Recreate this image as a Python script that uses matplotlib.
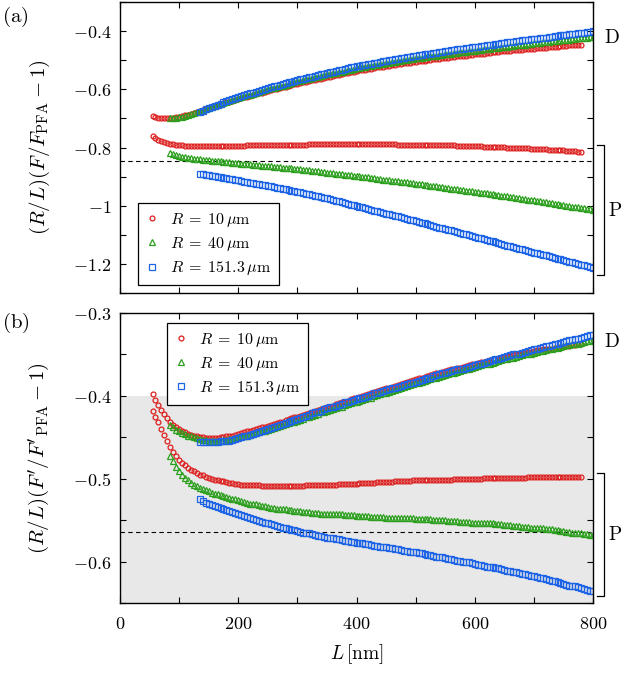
import numpy as np
import matplotlib
matplotlib.use("Agg")
import matplotlib.pyplot as plt
from matplotlib.ticker import MultipleLocator, FuncFormatter

plt.rcParams["mathtext.fontset"] = "cm"
plt.rcParams["font.family"] = ["DejaVu Serif"]

# L grid: first separation (nm) of each radius, sampled every 5 nm
L_STEP = 5
L0 = {"10": 55, "40": 85, "151.3": 135}
LABELS = {"10": r"$R\;=\;10\,\mu\mathrm{m}$",
          "40": r"$R\;=\;40\,\mu\mathrm{m}$",
          "151.3": r"$R\;=\;151.3\,\mu\mathrm{m}$"}

# ---- panel (a): (R/L)(F/F_PFA - 1) ----
a_D_10 = [
    -0.693, -0.696, -0.698, -0.699, -0.700, -0.700, -0.699, -0.698, -0.696, -0.694,
    -0.692, -0.689, -0.687, -0.684, -0.681, -0.678, -0.674, -0.671, -0.668, -0.664,
    -0.661, -0.658, -0.655, -0.651, -0.648, -0.645, -0.642, -0.640, -0.637, -0.634,
    -0.631, -0.628, -0.625, -0.622, -0.619, -0.617, -0.614, -0.611, -0.608, -0.605,
    -0.603, -0.600, -0.598, -0.595, -0.593, -0.591, -0.588, -0.586, -0.583, -0.581,
    -0.579, -0.576, -0.574, -0.572, -0.569, -0.567, -0.565, -0.563, -0.560, -0.558,
    -0.556, -0.554, -0.552, -0.550, -0.548, -0.545, -0.543, -0.541, -0.539, -0.537,
    -0.535, -0.534, -0.532, -0.530, -0.529, -0.527, -0.525, -0.523, -0.522, -0.520,
    -0.519, -0.517, -0.516, -0.514, -0.513, -0.511, -0.510, -0.508, -0.507, -0.505,
    -0.504, -0.502, -0.501, -0.500, -0.498, -0.497, -0.496, -0.495, -0.493, -0.492,
    -0.491, -0.490, -0.488, -0.487, -0.486, -0.485, -0.484, -0.482, -0.481, -0.480,
    -0.479, -0.478, -0.477, -0.476, -0.475, -0.473, -0.472, -0.471, -0.470, -0.469,
    -0.468, -0.467, -0.466, -0.466, -0.465, -0.464, -0.463, -0.462, -0.461, -0.460,
    -0.459, -0.458, -0.457, -0.457, -0.456, -0.455, -0.454, -0.453, -0.452, -0.451,
    -0.450, -0.449, -0.448, -0.448, -0.447, -0.446]
a_D_40 = [
    -0.700, -0.699, -0.698, -0.696, -0.694, -0.691, -0.688, -0.685, -0.682, -0.679,
    -0.676, -0.672, -0.669, -0.665, -0.662, -0.658, -0.655, -0.651, -0.648, -0.644,
    -0.641, -0.637, -0.634, -0.630, -0.627, -0.624, -0.621, -0.618, -0.615, -0.612,
    -0.609, -0.606, -0.603, -0.600, -0.597, -0.595, -0.592, -0.589, -0.587, -0.584,
    -0.581, -0.578, -0.576, -0.573, -0.571, -0.568, -0.566, -0.563, -0.561, -0.559,
    -0.556, -0.554, -0.551, -0.549, -0.547, -0.545, -0.543, -0.541, -0.539, -0.536,
    -0.534, -0.532, -0.530, -0.528, -0.526, -0.524, -0.523, -0.521, -0.519, -0.517,
    -0.515, -0.513, -0.512, -0.510, -0.508, -0.507, -0.505, -0.504, -0.502, -0.500,
    -0.499, -0.497, -0.496, -0.494, -0.493, -0.491, -0.490, -0.488, -0.487, -0.486,
    -0.484, -0.483, -0.481, -0.480, -0.479, -0.477, -0.476, -0.475, -0.473, -0.472,
    -0.471, -0.470, -0.468, -0.467, -0.466, -0.464, -0.463, -0.462, -0.460, -0.459,
    -0.458, -0.457, -0.455, -0.454, -0.453, -0.452, -0.450, -0.449, -0.448, -0.447,
    -0.446, -0.444, -0.443, -0.442, -0.441, -0.440, -0.439, -0.438, -0.437, -0.435,
    -0.434, -0.433, -0.432, -0.431, -0.430, -0.429, -0.428, -0.427, -0.425, -0.424,
    -0.423, -0.422, -0.421, -0.420]
a_D_151 = [
    -0.677, -0.673, -0.669, -0.665, -0.661, -0.657, -0.653, -0.649, -0.645, -0.641,
    -0.637, -0.633, -0.630, -0.626, -0.623, -0.620, -0.617, -0.614, -0.611, -0.608,
    -0.605, -0.602, -0.599, -0.596, -0.593, -0.590, -0.588, -0.585, -0.582, -0.579,
    -0.576, -0.574, -0.571, -0.568, -0.566, -0.563, -0.561, -0.558, -0.556, -0.553,
    -0.551, -0.548, -0.546, -0.543, -0.541, -0.539, -0.536, -0.534, -0.532, -0.530,
    -0.528, -0.525, -0.523, -0.521, -0.519, -0.517, -0.515, -0.513, -0.512, -0.510,
    -0.508, -0.506, -0.504, -0.502, -0.500, -0.499, -0.497, -0.495, -0.494, -0.492,
    -0.490, -0.488, -0.487, -0.485, -0.483, -0.482, -0.480, -0.479, -0.477, -0.475,
    -0.474, -0.472, -0.471, -0.469, -0.468, -0.466, -0.465, -0.463, -0.462, -0.460,
    -0.459, -0.457, -0.456, -0.454, -0.453, -0.451, -0.450, -0.448, -0.447, -0.446,
    -0.444, -0.443, -0.441, -0.440, -0.439, -0.437, -0.436, -0.435, -0.434, -0.432,
    -0.431, -0.430, -0.428, -0.427, -0.426, -0.424, -0.423, -0.422, -0.421, -0.419,
    -0.418, -0.417, -0.415, -0.414, -0.413, -0.411, -0.410, -0.409, -0.408, -0.406,
    -0.405, -0.404, -0.402, -0.401]
a_P_10 = [
    -0.761, -0.768, -0.774, -0.778, -0.782, -0.785, -0.787, -0.789, -0.791, -0.792,
    -0.793, -0.794, -0.795, -0.795, -0.796, -0.796, -0.796, -0.796, -0.796, -0.796,
    -0.796, -0.796, -0.796, -0.795, -0.795, -0.795, -0.795, -0.794, -0.794, -0.794,
    -0.794, -0.794, -0.793, -0.793, -0.793, -0.793, -0.793, -0.792, -0.792, -0.792,
    -0.792, -0.792, -0.791, -0.791, -0.791, -0.791, -0.790, -0.790, -0.790, -0.790,
    -0.790, -0.790, -0.790, -0.789, -0.789, -0.789, -0.789, -0.789, -0.789, -0.789,
    -0.789, -0.789, -0.789, -0.789, -0.789, -0.789, -0.789, -0.789, -0.789, -0.789,
    -0.789, -0.789, -0.789, -0.789, -0.789, -0.789, -0.789, -0.789, -0.789, -0.789,
    -0.789, -0.789, -0.789, -0.790, -0.790, -0.790, -0.790, -0.790, -0.790, -0.790,
    -0.790, -0.791, -0.791, -0.791, -0.791, -0.791, -0.792, -0.792, -0.792, -0.792,
    -0.793, -0.793, -0.793, -0.794, -0.794, -0.794, -0.794, -0.795, -0.795, -0.795,
    -0.796, -0.796, -0.797, -0.797, -0.797, -0.798, -0.798, -0.798, -0.799, -0.799,
    -0.800, -0.800, -0.801, -0.801, -0.802, -0.802, -0.803, -0.803, -0.804, -0.804,
    -0.805, -0.805, -0.806, -0.806, -0.807, -0.808, -0.808, -0.809, -0.809, -0.810,
    -0.811, -0.812, -0.813, -0.813, -0.814, -0.815]
a_P_40 = [
    -0.820, -0.823, -0.826, -0.828, -0.831, -0.833, -0.835, -0.837, -0.838, -0.840,
    -0.841, -0.842, -0.843, -0.844, -0.845, -0.846, -0.847, -0.848, -0.849, -0.850,
    -0.851, -0.852, -0.853, -0.854, -0.855, -0.856, -0.857, -0.858, -0.859, -0.860,
    -0.861, -0.862, -0.863, -0.864, -0.865, -0.866, -0.867, -0.868, -0.869, -0.870,
    -0.871, -0.872, -0.873, -0.874, -0.875, -0.876, -0.878, -0.879, -0.880, -0.881,
    -0.882, -0.884, -0.885, -0.886, -0.887, -0.888, -0.890, -0.891, -0.892, -0.893,
    -0.894, -0.896, -0.897, -0.898, -0.899, -0.901, -0.902, -0.903, -0.905, -0.906,
    -0.907, -0.909, -0.910, -0.911, -0.912, -0.914, -0.915, -0.916, -0.918, -0.919,
    -0.920, -0.922, -0.923, -0.924, -0.925, -0.927, -0.928, -0.930, -0.931, -0.932,
    -0.934, -0.935, -0.937, -0.938, -0.939, -0.941, -0.942, -0.944, -0.945, -0.946,
    -0.948, -0.949, -0.951, -0.952, -0.953, -0.955, -0.956, -0.958, -0.959, -0.961,
    -0.962, -0.964, -0.965, -0.967, -0.968, -0.970, -0.971, -0.973, -0.974, -0.976,
    -0.977, -0.979, -0.980, -0.982, -0.984, -0.985, -0.987, -0.988, -0.990, -0.992,
    -0.993, -0.995, -0.996, -0.998, -1.000, -1.001, -1.003, -1.004, -1.006, -1.008,
    -1.009, -1.011, -1.012, -1.014]
a_P_151 = [
    -0.890, -0.892, -0.894, -0.895, -0.897, -0.899, -0.901, -0.902, -0.904, -0.906,
    -0.908, -0.909, -0.911, -0.913, -0.915, -0.917, -0.919, -0.921, -0.923, -0.924,
    -0.926, -0.928, -0.930, -0.932, -0.934, -0.936, -0.938, -0.940, -0.942, -0.944,
    -0.946, -0.948, -0.950, -0.952, -0.954, -0.957, -0.959, -0.961, -0.963, -0.966,
    -0.968, -0.970, -0.973, -0.975, -0.978, -0.980, -0.983, -0.985, -0.988, -0.991,
    -0.993, -0.996, -0.998, -1.001, -1.004, -1.006, -1.009, -1.011, -1.014, -1.017,
    -1.019, -1.022, -1.024, -1.027, -1.030, -1.032, -1.035, -1.037, -1.040, -1.043,
    -1.045, -1.048, -1.050, -1.053, -1.056, -1.058, -1.061, -1.064, -1.067, -1.069,
    -1.072, -1.075, -1.077, -1.080, -1.083, -1.085, -1.088, -1.091, -1.094, -1.096,
    -1.099, -1.102, -1.104, -1.107, -1.110, -1.112, -1.115, -1.118, -1.121, -1.123,
    -1.126, -1.129, -1.131, -1.134, -1.137, -1.139, -1.142, -1.145, -1.148, -1.150,
    -1.153, -1.156, -1.158, -1.161, -1.164, -1.166, -1.169, -1.171, -1.174, -1.177,
    -1.179, -1.182, -1.184, -1.187, -1.190, -1.192, -1.195, -1.197, -1.200, -1.203,
    -1.205, -1.208, -1.210, -1.213]

# ---- panel (b): (R/L)(F'/F'_PFA - 1) ----
b_D_10 = [
    -0.398, -0.405, -0.411, -0.417, -0.422, -0.427, -0.431, -0.435, -0.438, -0.440,
    -0.442, -0.444, -0.446, -0.447, -0.448, -0.449, -0.450, -0.450, -0.451, -0.451,
    -0.451, -0.451, -0.451, -0.450, -0.450, -0.449, -0.448, -0.448, -0.447, -0.446,
    -0.445, -0.444, -0.443, -0.442, -0.441, -0.440, -0.439, -0.438, -0.437, -0.436,
    -0.435, -0.434, -0.433, -0.432, -0.431, -0.429, -0.428, -0.427, -0.426, -0.425,
    -0.424, -0.423, -0.422, -0.421, -0.420, -0.418, -0.417, -0.416, -0.415, -0.414,
    -0.413, -0.412, -0.410, -0.409, -0.408, -0.407, -0.406, -0.404, -0.403, -0.402,
    -0.401, -0.400, -0.399, -0.398, -0.397, -0.395, -0.394, -0.393, -0.392, -0.391,
    -0.390, -0.389, -0.388, -0.387, -0.386, -0.384, -0.383, -0.382, -0.381, -0.380,
    -0.379, -0.378, -0.377, -0.376, -0.375, -0.374, -0.373, -0.372, -0.371, -0.370,
    -0.369, -0.368, -0.367, -0.366, -0.366, -0.365, -0.364, -0.363, -0.362, -0.361,
    -0.360, -0.359, -0.359, -0.358, -0.357, -0.356, -0.355, -0.355, -0.354, -0.353,
    -0.352, -0.352, -0.351, -0.350, -0.350, -0.349, -0.348, -0.347, -0.347, -0.346,
    -0.345, -0.345, -0.344, -0.344, -0.343, -0.343, -0.342, -0.342, -0.341, -0.341,
    -0.340, -0.340, -0.339, -0.339, -0.338, -0.338]
b_D_40 = [
    -0.435, -0.438, -0.441, -0.443, -0.445, -0.446, -0.448, -0.449, -0.450, -0.451,
    -0.452, -0.453, -0.453, -0.454, -0.454, -0.454, -0.454, -0.454, -0.453, -0.453,
    -0.452, -0.452, -0.451, -0.450, -0.449, -0.448, -0.448, -0.447, -0.446, -0.445,
    -0.444, -0.443, -0.442, -0.441, -0.440, -0.439, -0.437, -0.436, -0.435, -0.434,
    -0.433, -0.432, -0.431, -0.430, -0.429, -0.428, -0.426, -0.425, -0.424, -0.423,
    -0.422, -0.420, -0.419, -0.418, -0.417, -0.416, -0.415, -0.414, -0.413, -0.411,
    -0.410, -0.409, -0.408, -0.407, -0.406, -0.405, -0.404, -0.403, -0.402, -0.400,
    -0.399, -0.398, -0.397, -0.396, -0.395, -0.394, -0.393, -0.392, -0.391, -0.389,
    -0.388, -0.387, -0.386, -0.385, -0.384, -0.383, -0.382, -0.381, -0.380, -0.379,
    -0.378, -0.377, -0.376, -0.375, -0.374, -0.373, -0.372, -0.371, -0.370, -0.369,
    -0.368, -0.367, -0.366, -0.365, -0.364, -0.363, -0.362, -0.361, -0.361, -0.360,
    -0.359, -0.358, -0.357, -0.356, -0.355, -0.354, -0.354, -0.353, -0.352, -0.351,
    -0.350, -0.350, -0.349, -0.348, -0.347, -0.346, -0.346, -0.345, -0.344, -0.343,
    -0.342, -0.342, -0.341, -0.340, -0.339, -0.339, -0.338, -0.337, -0.337, -0.336,
    -0.335, -0.334, -0.334, -0.333]
b_D_151 = [
    -0.456, -0.456, -0.456, -0.456, -0.456, -0.456, -0.456, -0.455, -0.455, -0.454,
    -0.454, -0.453, -0.452, -0.451, -0.450, -0.449, -0.448, -0.447, -0.446, -0.445,
    -0.444, -0.442, -0.441, -0.440, -0.439, -0.438, -0.436, -0.435, -0.434, -0.433,
    -0.432, -0.430, -0.429, -0.428, -0.427, -0.425, -0.424, -0.423, -0.421, -0.420,
    -0.419, -0.418, -0.416, -0.415, -0.414, -0.413, -0.412, -0.411, -0.410, -0.408,
    -0.407, -0.406, -0.405, -0.404, -0.403, -0.402, -0.401, -0.400, -0.399, -0.397,
    -0.396, -0.395, -0.394, -0.393, -0.392, -0.391, -0.390, -0.389, -0.388, -0.387,
    -0.386, -0.385, -0.384, -0.383, -0.382, -0.381, -0.380, -0.379, -0.378, -0.376,
    -0.375, -0.374, -0.373, -0.372, -0.371, -0.370, -0.369, -0.368, -0.368, -0.367,
    -0.366, -0.365, -0.364, -0.363, -0.362, -0.361, -0.360, -0.359, -0.358, -0.357,
    -0.356, -0.355, -0.354, -0.353, -0.352, -0.351, -0.350, -0.349, -0.349, -0.348,
    -0.347, -0.346, -0.345, -0.344, -0.343, -0.342, -0.341, -0.340, -0.340, -0.339,
    -0.338, -0.337, -0.336, -0.335, -0.334, -0.333, -0.332, -0.331, -0.331, -0.330,
    -0.329, -0.328, -0.327, -0.326]
b_P_10 = [
    -0.418, -0.425, -0.432, -0.440, -0.447, -0.455, -0.462, -0.468, -0.473, -0.477,
    -0.481, -0.484, -0.487, -0.489, -0.491, -0.493, -0.495, -0.496, -0.498, -0.499,
    -0.500, -0.501, -0.502, -0.503, -0.503, -0.504, -0.505, -0.505, -0.506, -0.506,
    -0.507, -0.507, -0.507, -0.508, -0.508, -0.508, -0.508, -0.509, -0.509, -0.509,
    -0.509, -0.509, -0.509, -0.509, -0.509, -0.509, -0.509, -0.509, -0.509, -0.509,
    -0.509, -0.509, -0.508, -0.508, -0.508, -0.508, -0.508, -0.507, -0.507, -0.507,
    -0.507, -0.507, -0.507, -0.506, -0.506, -0.506, -0.506, -0.506, -0.506, -0.506,
    -0.505, -0.505, -0.505, -0.505, -0.505, -0.505, -0.504, -0.504, -0.504, -0.504,
    -0.504, -0.504, -0.503, -0.503, -0.503, -0.503, -0.503, -0.503, -0.502, -0.502,
    -0.502, -0.502, -0.502, -0.502, -0.501, -0.501, -0.501, -0.501, -0.501, -0.501,
    -0.501, -0.501, -0.500, -0.500, -0.500, -0.500, -0.500, -0.500, -0.500, -0.500,
    -0.500, -0.500, -0.499, -0.499, -0.499, -0.499, -0.499, -0.499, -0.499, -0.499,
    -0.499, -0.499, -0.499, -0.499, -0.499, -0.499, -0.499, -0.498, -0.498, -0.498,
    -0.498, -0.498, -0.498, -0.498, -0.498, -0.498, -0.498, -0.498, -0.498, -0.498,
    -0.498, -0.498, -0.498, -0.498, -0.498, -0.498]
b_P_40 = [
    -0.472, -0.479, -0.486, -0.491, -0.496, -0.499, -0.502, -0.505, -0.507, -0.509,
    -0.511, -0.513, -0.514, -0.515, -0.517, -0.518, -0.519, -0.520, -0.521, -0.522,
    -0.523, -0.524, -0.525, -0.526, -0.527, -0.528, -0.529, -0.530, -0.531, -0.531,
    -0.532, -0.533, -0.533, -0.534, -0.535, -0.535, -0.536, -0.536, -0.537, -0.537,
    -0.538, -0.538, -0.539, -0.539, -0.539, -0.540, -0.540, -0.540, -0.541, -0.541,
    -0.541, -0.542, -0.542, -0.542, -0.542, -0.543, -0.543, -0.543, -0.543, -0.544,
    -0.544, -0.544, -0.544, -0.545, -0.545, -0.545, -0.545, -0.545, -0.546, -0.546,
    -0.546, -0.546, -0.546, -0.547, -0.547, -0.547, -0.547, -0.547, -0.548, -0.548,
    -0.548, -0.548, -0.548, -0.549, -0.549, -0.549, -0.549, -0.549, -0.549, -0.550,
    -0.550, -0.550, -0.550, -0.550, -0.551, -0.551, -0.551, -0.551, -0.552, -0.552,
    -0.552, -0.552, -0.553, -0.553, -0.553, -0.553, -0.554, -0.554, -0.554, -0.554,
    -0.555, -0.555, -0.555, -0.556, -0.556, -0.556, -0.557, -0.557, -0.557, -0.558,
    -0.558, -0.558, -0.559, -0.559, -0.559, -0.560, -0.560, -0.561, -0.561, -0.561,
    -0.562, -0.562, -0.563, -0.563, -0.564, -0.564, -0.565, -0.565, -0.566, -0.566,
    -0.567, -0.567, -0.568, -0.568]
b_P_151 = [
    -0.524, -0.527, -0.529, -0.531, -0.532, -0.533, -0.534, -0.535, -0.536, -0.538,
    -0.539, -0.540, -0.541, -0.543, -0.544, -0.545, -0.546, -0.548, -0.549, -0.550,
    -0.551, -0.552, -0.553, -0.554, -0.555, -0.556, -0.557, -0.558, -0.559, -0.560,
    -0.561, -0.562, -0.562, -0.563, -0.564, -0.565, -0.566, -0.566, -0.567, -0.568,
    -0.569, -0.569, -0.570, -0.571, -0.572, -0.572, -0.573, -0.573, -0.574, -0.575,
    -0.575, -0.576, -0.576, -0.577, -0.578, -0.578, -0.579, -0.579, -0.580, -0.581,
    -0.581, -0.582, -0.582, -0.583, -0.584, -0.584, -0.585, -0.585, -0.586, -0.587,
    -0.587, -0.588, -0.588, -0.589, -0.590, -0.590, -0.591, -0.592, -0.592, -0.593,
    -0.594, -0.594, -0.595, -0.596, -0.597, -0.597, -0.598, -0.599, -0.599, -0.600,
    -0.601, -0.601, -0.602, -0.603, -0.604, -0.604, -0.605, -0.606, -0.606, -0.607,
    -0.608, -0.608, -0.609, -0.610, -0.611, -0.611, -0.612, -0.613, -0.614, -0.615,
    -0.615, -0.616, -0.617, -0.618, -0.619, -0.620, -0.620, -0.621, -0.622, -0.623,
    -0.624, -0.625, -0.626, -0.627, -0.628, -0.629, -0.629, -0.630, -0.631, -0.632,
    -0.633, -0.634, -0.635, -0.636]

# PFA-limit reference lines and the shaded band in (b)
REF_A = -0.847
REF_B = -0.564
BAND_B = (-0.65, -0.40)

STYLE = {
    "10": dict(marker="o", color="#dc1e1e", ms=3.5),
    "40": dict(marker="^", color="#2ca01e", ms=4.3),
    "151.3": dict(marker="s", color="#1e64e6", ms=3.7),
}


def series_L(key, vals):
    return L0[key] + L_STEP * np.arange(len(vals))


def draw(ax, branches):
    for key, D, P in branches:
        st = STYLE[key]
        for vals, lab in ((D, LABELS[key]), (P, None)):
            ax.plot(series_L(key, vals), vals, ls="none", marker=st["marker"],
                    ms=st["ms"], mfc="none", mec=st["color"], mew=0.9, label=lab)


def style_axes(ax):
    ax.set_xlim(0, 800)
    ax.xaxis.set_major_locator(MultipleLocator(200))
    ax.xaxis.set_minor_locator(MultipleLocator(100))
    ax.tick_params(which="both", direction="in", top=True, right=True,
                   length=4.5, width=0.8, labelsize=13)
    ax.tick_params(axis="y", pad=6)
    ax.tick_params(axis="x", pad=9)
    ax.yaxis.set_major_formatter(FuncFormatter(lambda v, p: f"${v:g}$"))
    ax.xaxis.set_major_formatter(FuncFormatter(lambda v, p: f"${v:g}$"))
    for s in ax.spines.values():
        s.set_linewidth(1.0)


def bracket(ax, y0, y1):
    tr = ax.get_yaxis_transform()
    ax.plot([1.008, 1.023, 1.023, 1.008], [y0, y0, y1, y1], color="black",
            lw=0.9, transform=tr, clip_on=False)


def legend(ax, **kw):
    leg = ax.legend(borderaxespad=0, fontsize=11.5, handlelength=0.8,
                    handletextpad=0.7, fancybox=False, framealpha=1,
                    edgecolor="black", borderpad=0.5, labelspacing=0.38, **kw)
    leg.get_frame().set_linewidth(0.9)


fig = plt.figure(figsize=(6.27, 6.76), dpi=100)
ax_a = fig.add_axes([0.1914, 0.5666, 0.7544, 0.4304])
ax_b = fig.add_axes([0.1914, 0.1080, 0.7544, 0.4290])

# panel (a)
ax_a.axhline(REF_A, color="black", lw=0.8, ls=(0, (4, 3)), zorder=1)
draw(ax_a, [("10", a_D_10, a_P_10), ("40", a_D_40, a_P_40), ("151.3", a_D_151, a_P_151)])
style_axes(ax_a)
ax_a.set_ylim(-1.3, -0.3)
ax_a.yaxis.set_major_locator(MultipleLocator(0.2))
ax_a.yaxis.set_minor_locator(MultipleLocator(0.1))
ax_a.tick_params(axis="x", labelbottom=False)
ax_a.set_ylabel(r"$(R/L)(F/F_{\mathrm{PFA}}-1)$", fontsize=15, labelpad=15)
legend(ax_a, loc="lower left", bbox_to_anchor=(0.038, 0.027))
bracket(ax_a, -0.790, -1.238)
tr = ax_a.get_yaxis_transform()
ax_a.text(1.024, -0.424, r"$\mathrm{D}$", transform=tr, fontsize=14, va="center", ha="left")
ax_a.text(1.032, -1.018, r"$\mathrm{P}$", transform=tr, fontsize=14, va="center", ha="left")

# panel (b)
ax_b.axhspan(*BAND_B, color="#e8e8e8", lw=0, zorder=0)
ax_b.axhline(REF_B, color="black", lw=0.8, ls=(0, (4, 3)), zorder=1)
draw(ax_b, [("10", b_D_10, b_P_10), ("40", b_D_40, b_P_40), ("151.3", b_D_151, b_P_151)])
style_axes(ax_b)
ax_b.set_ylim(-0.65, -0.3)
ax_b.yaxis.set_major_locator(MultipleLocator(0.1))
ax_b.yaxis.set_minor_locator(MultipleLocator(0.05))
ax_b.set_ylabel(r"$(R/L)(F'/F'_{\mathrm{PFA}}-1)$", fontsize=15, labelpad=15)
ax_b.set_xlabel(r"$L\,[\mathrm{nm}]$", fontsize=14, labelpad=6)
legend(ax_b, loc="upper left", bbox_to_anchor=(0.099, 0.966))
bracket(ax_b, -0.4926, -0.642)
tr = ax_b.get_yaxis_transform()
ax_b.text(1.024, -0.3346, r"$\mathrm{D}$", transform=tr, fontsize=14, va="center", ha="left")
ax_b.text(1.032, -0.568, r"$\mathrm{P}$", transform=tr, fontsize=14, va="center", ha="left")

fig.text(0.003, 0.975, r"$\mathrm{(a)}$", fontsize=15, va="center", ha="left")
fig.text(0.003, 0.523, r"$\mathrm{(b)}$", fontsize=15, va="center", ha="left")

fig.savefig("out.png", dpi=100)
